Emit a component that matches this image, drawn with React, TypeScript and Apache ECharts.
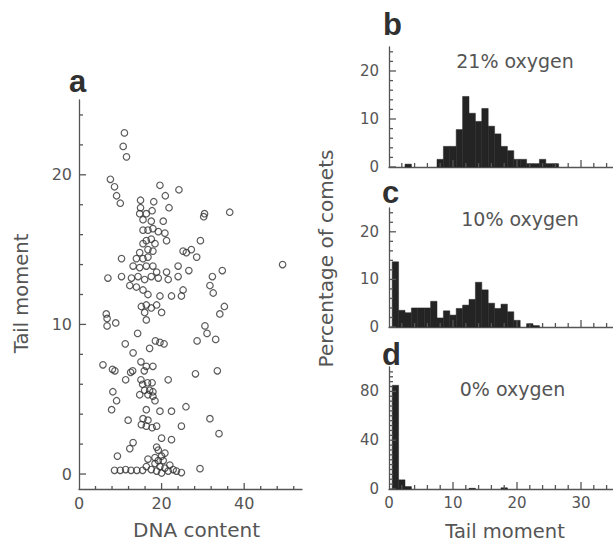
import React, { useEffect, useRef } from "react";
import * as echarts from "echarts";

// Panel a: DNA content (x) vs tail moment (y)
const cometPoints: [number, number][] = [
  [11.0, 22.8], [10.7, 21.9], [11.5, 21.2], [7.6, 19.7], [8.6, 19.2], [9.1, 18.6], [10.0, 18.1],
  [19.6, 19.3], [24.2, 19.0], [20.9, 18.6], [18.1, 18.2], [14.9, 18.3],
  [21.8, 17.8], [14.9, 17.8], [14.7, 17.4], [16.3, 17.4], [17.7, 17.6], [30.4, 17.4], [30.2, 17.2],
  [36.5, 17.5], [15.5, 17.0], [17.5, 16.9], [20.4, 16.9], [15.5, 16.3], [16.7, 16.3], [17.9, 16.4],
  [19.2, 16.2], [20.8, 16.1], [21.2, 15.6], [16.3, 15.6], [17.5, 15.7], [18.4, 15.4], [15.5, 15.4],
  [29.4, 15.6],
  [16.7, 15.0], [14.7, 14.8], [17.9, 14.9], [25.2, 14.9], [26.0, 14.8], [27.2, 15.0], [28.5, 14.5],
  [13.9, 14.4], [15.5, 14.4], [16.7, 14.5], [10.3, 14.4], [49.3, 14.0], [13.1, 13.9], [14.7, 13.8],
  [16.3, 13.9], [17.9, 13.9], [18.8, 13.5], [21.2, 13.5], [24.0, 13.9], [26.6, 13.6], [34.7, 13.6],
  [7.0, 13.1], [10.3, 13.2], [12.7, 13.1], [14.3, 13.2], [15.9, 13.0], [17.5, 13.2], [19.2, 13.1],
  [21.6, 13.0], [24.0, 13.2], [32.3, 13.2],
  [31.7, 12.6], [32.5, 12.1], [12.3, 12.6], [13.9, 12.5], [15.5, 12.3], [16.7, 12.0], [19.6, 11.9],
  [22.4, 11.9], [24.8, 11.9], [25.2, 12.3], [35.2, 11.2], [15.1, 11.2], [16.3, 11.3], [17.5, 11.1],
  [18.8, 11.3],
  [20.0, 10.8], [15.9, 10.8], [16.3, 10.3], [6.6, 10.7], [6.8, 10.4], [6.8, 9.9], [8.9, 10.1],
  [34.1, 10.7], [30.5, 9.9], [31.0, 9.4], [14.2, 9.4],
  [33.1, 9.0], [28.6, 8.9], [18.5, 8.9], [19.6, 8.8], [20.6, 8.7], [17.1, 8.4], [11.2, 8.7],
  [13.1, 8.1], [15.0, 7.5], [16.3, 7.2], [17.9, 7.2], [5.8, 7.3], [8.1, 7.0], [8.7, 6.9],
  [12.5, 6.8], [13.0, 6.9], [15.8, 6.9], [33.5, 6.9], [28.2, 6.7], [11.3, 6.3], [15.0, 6.3],
  [21.6, 6.3], [15.4, 6.0], [16.6, 6.1], [17.7, 6.1], [15.9, 5.6], [17.1, 5.6], [17.9, 5.5],
  [16.7, 5.3], [17.9, 5.2], [14.7, 5.3], [8.2, 5.5],
  [9.1, 4.9], [18.4, 4.9], [7.9, 4.3], [16.3, 4.3], [19.6, 4.2], [22.4, 4.2], [25.9, 4.5],
  [11.9, 3.6], [15.5, 3.7], [16.7, 3.6], [15.1, 3.3], [16.3, 3.2], [17.7, 3.1], [18.8, 3.2],
  [31.7, 3.7], [24.8, 3.2], [33.9, 2.7],
  [20.0, 2.4], [22.4, 2.3], [13.1, 2.1], [12.3, 1.7], [18.8, 1.8], [19.2, 1.6], [20.8, 1.4],
  [9.3, 1.2], [18.4, 1.1], [20.0, 1.2], [16.7, 1.0],
  [8.6, 0.25], [10.0, 0.25], [11.3, 0.3], [12.6, 0.25], [14.0, 0.25], [15.4, 0.25], [16.3, 0.5],
  [17.5, 0.3], [18.4, 0.7], [18.8, 0.2], [19.6, 0.5], [20.0, 0.07], [20.8, 0.4], [21.6, 0.2],
  [22.0, 0.6], [22.8, 0.3], [23.6, 0.2], [24.8, 0.1], [19.2, 0.9], [20.4, 0.9], [29.3, 0.36],
];

// Histograms: bin centres (tail moment) and percentage of comets
const BIN_WIDTH = 1;
const binsB = [3, 8, 9, 10, 11, 12, 13, 14, 15, 16, 17, 18, 19, 20, 21, 22, 23, 24, 25, 26];
const pctB = [0.6, 1.6, 4.3, 4.3, 7.8, 14.7, 11.2, 9.5, 12.2, 8.5, 6.9, 4.3, 3.4, 1.6, 1.6, 0.7, 0.7, 1.6, 0.7, 0.7];
const binsC = [1, 2, 3, 4, 5, 6, 7, 8, 9, 10, 11, 12, 13, 14, 15, 16, 17, 18, 19, 20, 22, 23];
const pctC = [13.7, 3.5, 3.0, 4.0, 4.0, 4.0, 5.4, 1.9, 3.4, 2.5, 3.9, 4.6, 5.8, 9.4, 7.8, 5.0, 3.9, 4.8, 3.2, 1.4, 0.7, 0.3];
const binsD = [1, 2, 3, 13, 18];
const pctD = [85, 7.5, 2, 0.6, 1.0];

// Axis ranges
const aXRange = [0, 54];
const aYRange = [-1, 25];
const hXRange = [0, 35];
const bcYRange = [0, 25];
const dYRange = [0, 100];

// Tick values and labels
const aXMajor = [20, 40];
const aXMinor = [4, 8, 12, 16, 24, 28, 32, 36, 44, 48, 52];
const aXLabels = [0, 20, 40];
const aYMajor = [0, 10, 20];
const aYMinor = [2, 4, 6, 8, 12, 14, 16, 18, 22, 24];
const aYLabels = [0, 10, 20];
const hXMajor = [10, 20, 30];
const hXMinor = [2, 4, 6, 8, 12, 14, 16, 18, 22, 24, 26, 28, 32, 34];
const hXLabels = [0, 10, 20, 30];
const bcYMajor = [0, 10, 20];
const bcYMinor = [2, 4, 6, 8, 12, 14, 16, 18, 22, 24];
const bcYLabels = [0, 10, 20];
const dYMajor = [0, 40, 80];
const dYMinor = [4, 8, 12, 16, 20, 24, 28, 32, 36, 44, 48, 52, 56, 60, 64, 68, 72, 76, 84, 88, 92, 96];
const dYLabels = [0, 40, 80];

const AXIS_COLOR = "#555555";
const TEXT_COLOR = "#555555";
const BAR_COLOR = "#242424";
const FONT = "DejaVu Sans";
const MAJOR_LEN = 7;
const MINOR_LEN = 4;
const TICK_W = 1.3;

function makeAxis(
  kind: "x" | "y",
  gridIndex: number,
  range: number[],
  labels: number[],
  fontSize: number,
  margin: number
) {
  return {
    type: "value",
    gridIndex,
    min: range[0],
    max: range[1],
    position: kind === "x" ? "bottom" : "left",
    splitLine: { show: false },
    axisLine: { show: true, onZero: false, lineStyle: { color: AXIS_COLOR, width: 1.3 } },
    axisTick: { show: false },
    axisLabel: labels.length
      ? { show: true, customValues: labels, margin, color: TEXT_COLOR, fontSize, fontFamily: FONT }
      : { show: false },
  };
}

function histSeries(panel: number, centers: number[], values: number[]) {
  return {
    type: "custom",
    xAxisIndex: panel,
    yAxisIndex: panel,
    silent: true,
    data: centers.map((c, i) => [c, values[i]]),
    renderItem: (_params: any, api: any) => {
      const c = api.value(0);
      const v = api.value(1);
      const tl = api.coord([c - BIN_WIDTH / 2, v]);
      const br = api.coord([c + BIN_WIDTH / 2, 0]);
      return {
        type: "rect",
        shape: { x: tl[0], y: tl[1], width: br[0] - tl[0], height: br[1] - tl[1] },
        style: { fill: BAR_COLOR, stroke: BAR_COLOR, lineWidth: 0.5 },
      };
    },
  };
}

function txt(x: number, y: number, text: string, fontSize: number, opts: any = {}) {
  return {
    type: "text",
    x,
    y,
    rotation: opts.rotation || 0,
    silent: true,
    z: 10,
    style: {
      text,
      fontSize,
      fontFamily: opts.fontFamily || FONT,
      fontWeight: opts.fontWeight || "normal",
      fill: opts.fill || TEXT_COLOR,
      align: opts.align || "center",
      verticalAlign: "middle",
    },
  };
}

export default function App() {
  const ref = useRef<HTMLDivElement>(null);

  useEffect(() => {
    if (!ref.current) return;
    const chart = echarts.init(ref.current, null, { renderer: "svg" });
    const letter = { fontFamily: "Liberation Sans", fontWeight: "bold", fill: "#303030", align: "left" };
    chart.setOption({
      animation: false,
      backgroundColor: "#ffffff",
      grid: [
        { left: 79, top: 100, width: 223, height: 389 },
        { left: 389, top: 47, width: 225, height: 120 },
        { left: 389, top: 208, width: 225, height: 119 },
        { left: 389, top: 367, width: 225, height: 122 },
      ],
      xAxis: [
        makeAxis("x", 0, aXRange, aXLabels, 16, 6),
        makeAxis("x", 1, hXRange, [], 15, 6),
        makeAxis("x", 2, hXRange, [], 15, 6),
        makeAxis("x", 3, hXRange, hXLabels, 15, 6),
      ],
      yAxis: [
        makeAxis("y", 0, aYRange, aYLabels, 16, 7),
        makeAxis("y", 1, bcYRange, bcYLabels, 15, 10),
        makeAxis("y", 2, bcYRange, bcYLabels, 15, 10),
        makeAxis("y", 3, dYRange, dYLabels, 15, 10),
      ],
      series: [
        {
          type: "scatter",
          xAxisIndex: 0,
          yAxisIndex: 0,
          silent: true,
          symbol: "circle",
          symbolSize: 6.5,
          itemStyle: { color: "rgba(255,255,255,0)", borderColor: "#333333", borderWidth: 1.2 },
          data: cometPoints,
        },
        histSeries(1, binsB, pctB),
        histSeries(2, binsC, pctC),
        histSeries(3, binsD, pctD),
      ],
    });

    // Tick marks placed through the grids' own scales (convertToPixel), pointing inside
    const tickEls: any[] = [];
    const addTicks = (gridIndex: number, kind: "x" | "y", values: number[], base: number, len: number) => {
      values.forEach((v) => {
        const p = chart.convertToPixel({ gridIndex } as any, kind === "x" ? [v, base] : [base, v]) as number[];
        if (!p) return;
        tickEls.push({
          type: "rect",
          silent: true,
          z: 10,
          shape:
            kind === "x"
              ? { x: p[0] - TICK_W / 2, y: p[1] - len, width: TICK_W, height: len }
              : { x: p[0], y: p[1] - TICK_W / 2, width: len, height: TICK_W },
          style: { fill: AXIS_COLOR },
        });
      });
    };
    addTicks(0, "x", aXMajor, aYRange[0], MAJOR_LEN - 1);
    addTicks(0, "x", aXMinor, aYRange[0], MINOR_LEN - 1);
    addTicks(0, "y", aYMajor, aXRange[0], MAJOR_LEN);
    addTicks(0, "y", aYMinor, aXRange[0], MINOR_LEN);
    [1, 2].forEach((g) => {
      addTicks(g, "x", hXMajor, bcYRange[0], MAJOR_LEN);
      addTicks(g, "x", hXMinor, bcYRange[0], MINOR_LEN);
      addTicks(g, "y", bcYMajor, hXRange[0], MAJOR_LEN);
      addTicks(g, "y", bcYMinor, hXRange[0], MINOR_LEN);
    });
    addTicks(3, "x", hXMajor, dYRange[0], MAJOR_LEN);
    addTicks(3, "x", hXMinor, dYRange[0], MINOR_LEN);
    addTicks(3, "y", dYMajor, hXRange[0], MAJOR_LEN);
    addTicks(3, "y", dYMinor, hXRange[0], MINOR_LEN);

    chart.setOption({
      graphic: [
        txt(69, 81, "a", 31, letter),
        txt(383, 24, "b", 31, letter),
        txt(382, 192, "c", 31, letter),
        txt(382, 354, "d", 31, letter),
        txt(515, 60.5, "21% oxygen", 19),
        txt(520, 219, "10% oxygen", 19),
        txt(512.5, 388.5, "0% oxygen", 19),
        txt(196.5, 530, "DNA content", 20),
        txt(505, 531, "Tail moment", 19.5),
        txt(21.5, 293.5, "Tail moment", 19.5, { rotation: Math.PI / 2 }),
        txt(326, 258.5, "Percentage of comets", 20, { rotation: Math.PI / 2 }),
        ...tickEls,
      ],
    });
    return () => chart.dispose();
  }, []);

  return (
    <div
      ref={ref}
      style={{ position: "fixed", left: 0, top: 0, width: 613, height: 541, background: "#fff" }}
    />
  );
}
